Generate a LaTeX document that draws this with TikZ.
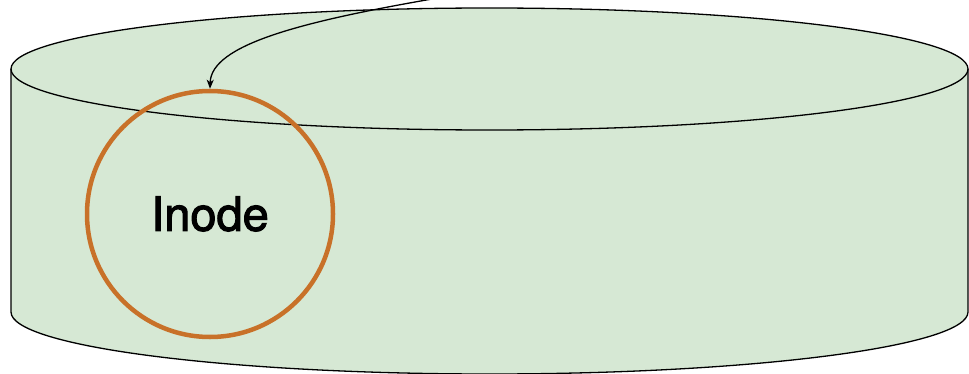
\documentclass[tikz,border=0pt]{standalone}
\usepackage{fontspec}
\setmainfont{TeX Gyre Heros}
\newfontfamily\labelfont[FakeBold=2.2]{TeX Gyre Heros}
\usetikzlibrary{arrows.meta}
\definecolor{diskgreen}{RGB}{214,232,212}
\definecolor{inodeorange}{RGB}{200,113,41}
\begin{document}
\begin{tikzpicture}[x=1pt,y=1pt,
  disk/.style={fill=diskgreen,draw=black,line width=1.3pt},
  ring/.style={circle,draw=inodeorange,line width=4.5pt,minimum size=246pt,inner sep=0pt,
    font=\labelfont\fontsize{47}{56}\selectfont},
  pointer/.style={draw=black,line width=1.3pt,-{Stealth[length=9pt,width=7pt,inset=2.5pt]}}]
\useasboundingbox (0,0) rectangle (969,373);
% disk body and top face
\draw[disk] (11,304) -- (11,61) arc[start angle=180,end angle=360,x radius=478.5,y radius=62]
  -- (968,304) arc[start angle=0,end angle=180,x radius=478.5,y radius=61] -- cycle;
\draw[line width=1.3pt] (11,304) arc[start angle=180,end angle=360,x radius=478.5,y radius=61];
% inode
\node[ring] (inode) at (210,159) {Inode};
\coordinate (src) at (432,374);
\draw[pointer] (src) .. controls (300,351) and (211,328) .. (inode.north);
\end{tikzpicture}
\end{document}
